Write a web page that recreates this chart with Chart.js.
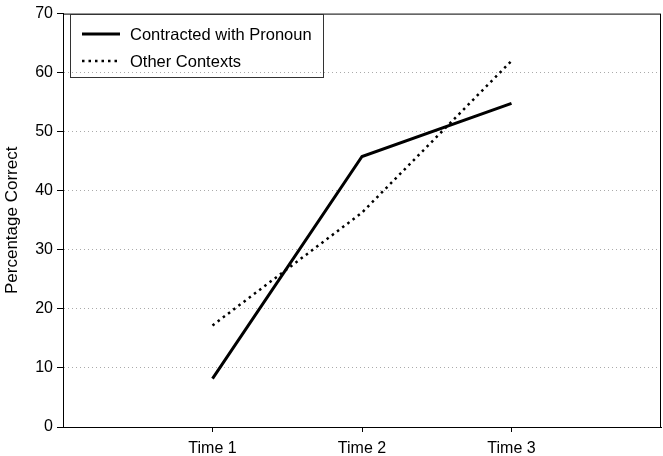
<!DOCTYPE html>
<html>
<head>
<meta charset="utf-8">
<script src="https://cdn.jsdelivr.net/npm/chart.js@4/dist/chart.umd.min.js"></script>
<style>
  html, body { margin: 0; padding: 0; background: #fff; }
  #wrap { width: 663px; height: 456px; }
</style>
</head>
<body>
<div id="wrap"><canvas id="chart" width="663" height="456"></canvas></div>
<script>
// data
const timeLabels = ['Time 1', 'Time 2', 'Time 3'];
const contracted = [8.2, 45.8, 54.8];
const otherContexts = [17.2, 36.3, 62.0];
const yTicks = [0, 10, 20, 30, 40, 50, 60, 70];

const FONT = 'Liberation Sans, Arial, sans-serif';
const FS = 16;

function toPoints(values) {
  return values.map((v, i) => ({ x: i + 1, y: v }));
}

// box around plot + legend box
const frameAndLegend = {
  id: 'frameAndLegend',
  afterDraw(chart) {
    const { ctx, chartArea: a } = chart;
    ctx.save();
    ctx.strokeStyle = '#000';
    ctx.lineWidth = 1;
    ctx.strokeRect(a.left + 0.5, a.top + 0.5, a.right - a.left - 1, a.bottom - a.top);

    // legend
    ctx.strokeStyle = '#333';
    ctx.strokeRect(70.5, 14.5, 253, 63);
    ctx.font = '16.5px ' + FONT;
    ctx.fillStyle = '#000';
    ctx.textBaseline = 'middle';
    const rows = [34, 61];
    chart.data.datasets.forEach((ds, i) => {
      const y = rows[i];
      ctx.beginPath();
      ctx.lineWidth = ds.borderWidth;
      ctx.setLineDash(ds.borderDash || []);
      ctx.strokeStyle = ds.borderColor;
      ctx.moveTo(82, y);
      ctx.lineTo(120, y);
      ctx.stroke();
      ctx.setLineDash([]);
      ctx.fillText(ds.label, 130, y + 1);
    });
    ctx.restore();
  }
};

new Chart(document.getElementById('chart'), {
  type: 'line',
  data: {
    datasets: [
      {
        label: 'Contracted with Pronoun',
        data: toPoints(contracted),
        borderColor: '#000',
        borderWidth: 3,
        pointRadius: 0,
        tension: 0
      },
      {
        label: 'Other Contexts',
        data: toPoints(otherContexts),
        borderColor: '#000',
        borderWidth: 2.5,
        borderDash: [2.5, 4],
        pointRadius: 0,
        tension: 0
      }
    ]
  },
  options: {
    responsive: false,
    animation: false,
    layout: { padding: { top: 7, right: 2, left: 0, bottom: 0 } },
    plugins: {
      legend: { display: false },
      tooltip: { enabled: false }
    },
    scales: {
      x: {
        type: 'linear',
        min: 0,
        max: 4,
        afterBuildTicks: (scale) => {
          scale.ticks = timeLabels.map((t, i) => ({ value: i + 1 }));
        },
        afterFit: (scale) => { scale.height = 29; },
        ticks: {
          color: '#000',
          font: { family: FONT, size: FS },
          padding: 7,
          autoSkip: false,
          maxRotation: 0,
          callback: (v) => timeLabels[v - 1]
        },
        grid: {
          drawOnChartArea: false,
          drawTicks: true,
          tickLength: 5,
          tickColor: '#000'
        },
        border: { display: true, color: '#000', width: 1 }
      },
      y: {
        min: 0,
        max: 70,
        afterBuildTicks: (scale) => {
          scale.ticks = yTicks.map(v => ({ value: v }));
        },
        afterFit: (scale) => { scale.width = 63; },
        title: {
          display: true,
          text: 'Percentage Correct',
          color: '#000',
          font: { family: FONT, size: 17 },
          padding: { top: 2, bottom: 0 }
        },
        ticks: {
          color: '#000',
          font: { family: FONT, size: FS },
          padding: 4
        },
        grid: {
          color: (c) => (c.tick && (c.tick.value === 0 || c.tick.value === 70)) ? 'rgba(0,0,0,0)' : '#aaa',
          lineWidth: 1,
          tickLength: 6,
          tickColor: '#000'
        },
        border: { display: true, color: '#000', width: 1, dash: [1, 3] }
      }
    }
  },
  plugins: [frameAndLegend]
});
</script>
</body>
</html>
